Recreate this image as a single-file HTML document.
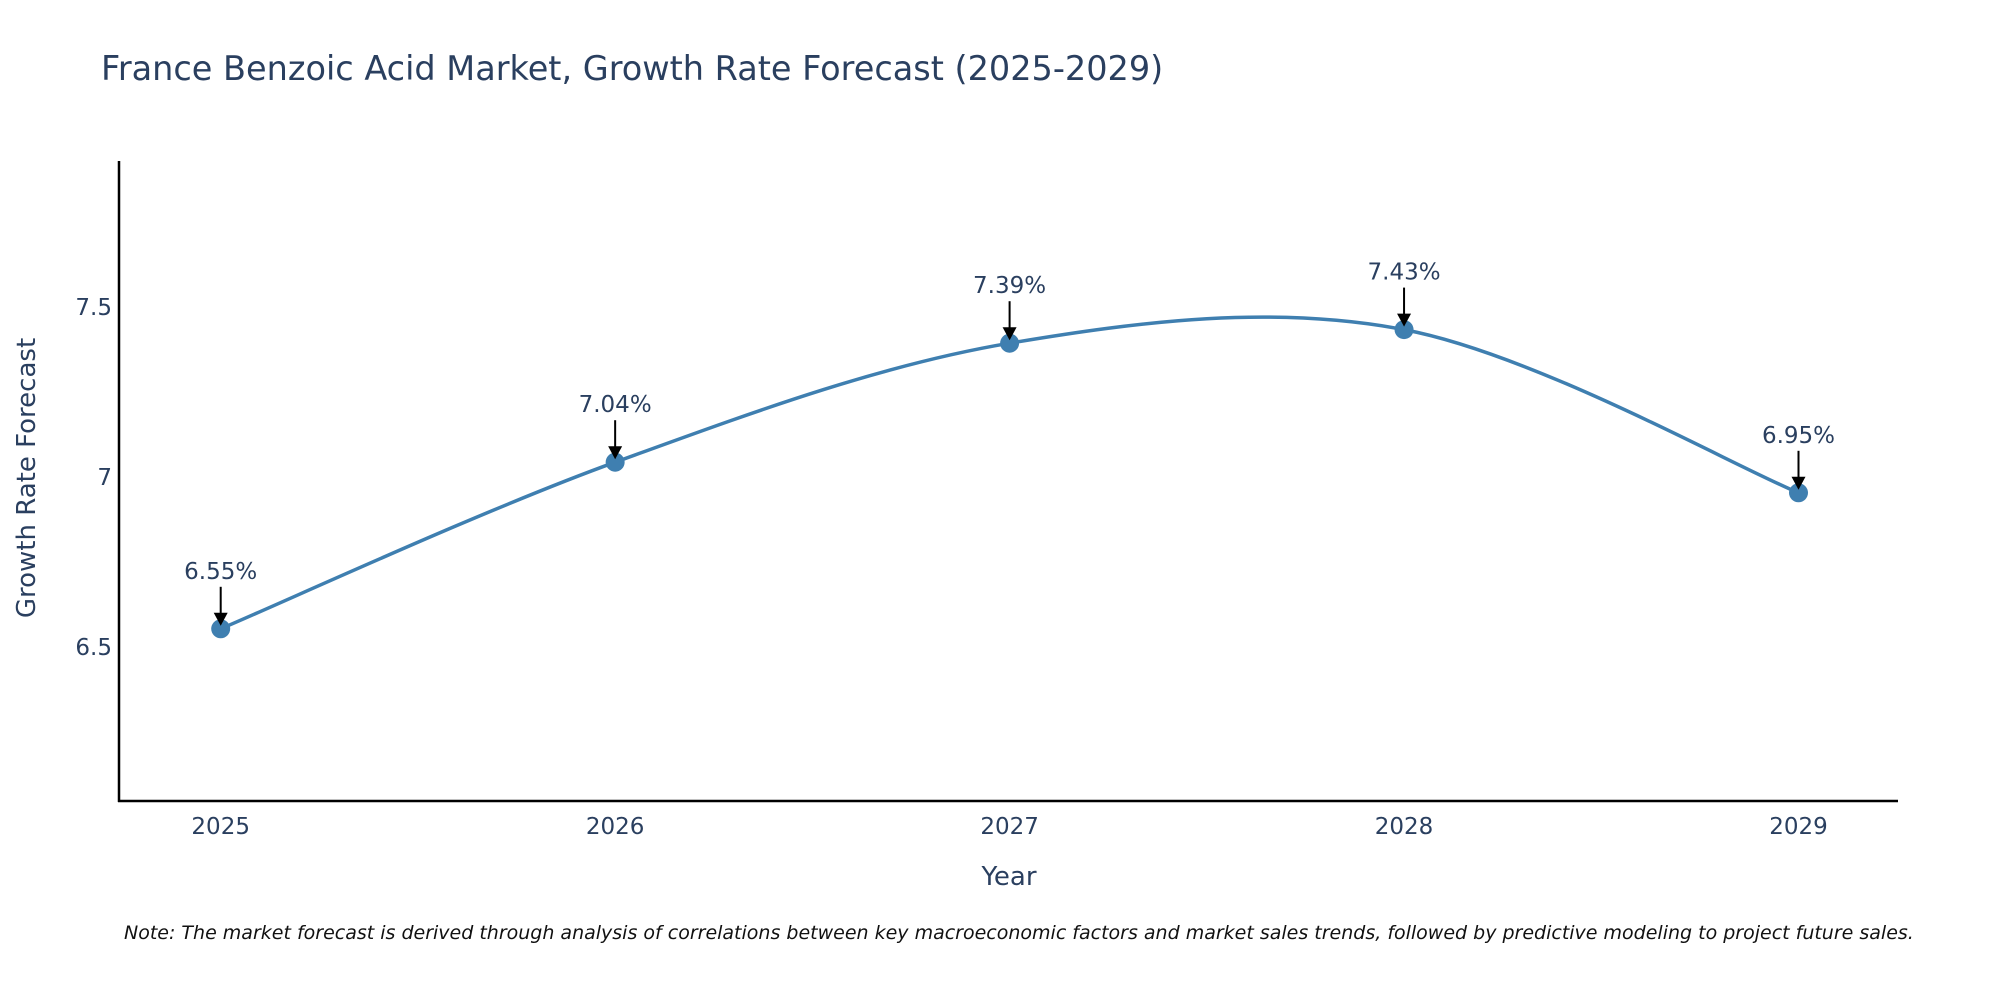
<!DOCTYPE html>
<html><head><meta charset="utf-8"><style>
html,body{margin:0;padding:0;background:#fff;}
svg{display:block;font-family:"DejaVu Sans","Liberation Sans",sans-serif;}
</style></head><body>
<svg id="chart" width="2000" height="1000" viewBox="0 0 2000 1000">
<text x="101" y="80" font-size="33.5" fill="#2a3f5f">France Benzoic Acid Market, Growth Rate Forecast (2025-2029)</text>
<line x1="119" y1="161" x2="119" y2="802" stroke="#000" stroke-width="2.5"/>
<line x1="118" y1="801" x2="1898" y2="801" stroke="#000" stroke-width="2.5"/>
<g id="yticks"></g><g id="xticks"></g>
<path id="line" fill="none" stroke="#3f7fb0" stroke-width="3.5"/>
<g id="points"></g><g id="annots"></g>
<text x="1009" y="885" font-size="26" fill="#2a3f5f" text-anchor="middle">Year</text>
<text transform="translate(35,478) rotate(-90)" font-size="26" fill="#2a3f5f" text-anchor="middle">Growth Rate Forecast</text>
<text x="124" y="939" font-size="19" font-style="italic" fill="#111">Note: The market forecast is derived through analysis of correlations between key macroeconomic factors and market sales trends, followed by predictive modeling to project future sales.</text>
</svg>
<script>
const years=[2025,2026,2027,2028,2029];
const values=[6.55,7.04,7.39,7.43,6.95];
const labels=["6.55%","7.04%","7.39%","7.43%","6.95%"];
const yTicks=[6.5,7,7.5];
const NS="http://www.w3.org/2000/svg";
const X=v=>220.7+(v-2025)*(1798.5-220.7)/4;
const Y=v=>475.8-(v-7)*340;
function mk(t,a,p){const e=document.createElementNS(NS,t);for(const k in a)e.setAttribute(k,a[k]);p.appendChild(e);return e;}
const yt=document.getElementById('yticks');
yTicks.forEach(v=>{const t=mk('text',{x:112,y:Y(v)+9,'font-size':23,fill:'#2a3f5f','text-anchor':'end'},yt);


t.textContent=String(v);});
const xt=document.getElementById('xticks');
years.forEach(v=>{const t=mk('text',{x:X(v),y:834,'font-size':23,fill:'#2a3f5f','text-anchor':'middle'},xt);


t.textContent=String(v);});
const P=years.map((y,i)=>[X(y),Y(values[i])]);
let d=`M${P[0][0]},${P[0][1]}`;
for(let i=0;i<P.length-1;i++){const p0=P[i-1]||P[i],p1=P[i],p2=P[i+1],p3=P[i+2]||P[i+1];
const c1=[p1[0]+(p2[0]-p0[0])/6,p1[1]+(p2[1]-p0[1])/6],c2=[p2[0]-(p3[0]-p1[0])/6,p2[1]-(p3[1]-p1[1])/6];
d+=` C${c1[0]},${c1[1]} ${c2[0]},${c2[1]} ${p2[0]},${p2[1]}`;}
document.getElementById('line').setAttribute('d',d);
const pg=document.getElementById('points'),ag=document.getElementById('annots');
P.forEach((p,i)=>{const c=mk('circle',{cx:p[0],cy:p[1],r:9.5,fill:'#3f7fb0'},pg);


const l=mk('line',{x1:p[0],y1:p[1]-42,x2:p[0],y2:p[1]-14,stroke:'#000','stroke-width':2},ag);


const h=mk('path',{d:`M${p[0]-7},${p[1]-16} L${p[0]+7},${p[1]-16} L${p[0]},${p[1]-3} Z`,fill:'#000'},ag);


const t=mk('text',{x:p[0],y:p[1]-50,'font-size':23,fill:'#2a3f5f','text-anchor':'middle'},ag);


t.textContent=labels[i];});
</script>
</body></html>
